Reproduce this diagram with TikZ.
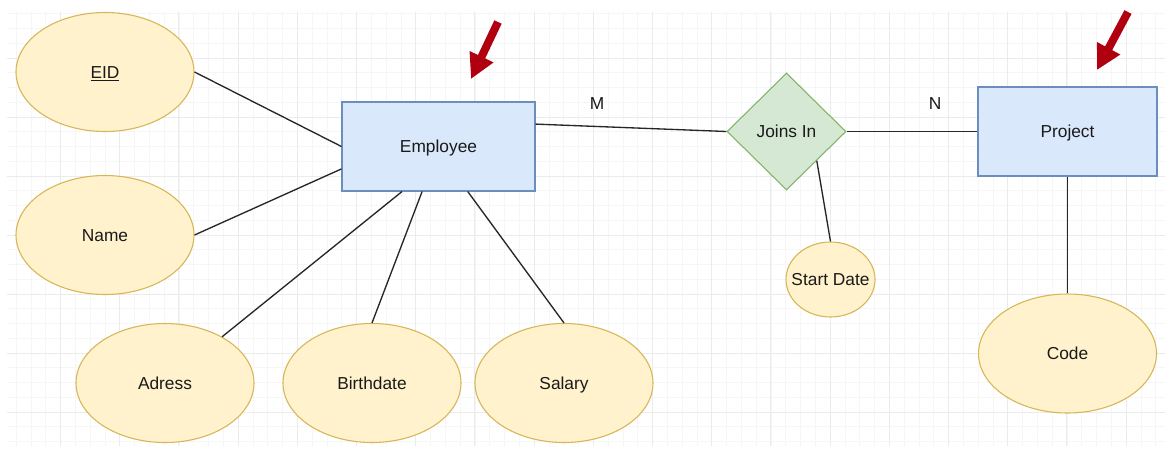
\documentclass[tikz,border=0pt]{standalone}
\usepackage{fontspec}
\setmainfont{Liberation Sans}
\usetikzlibrary{shapes.geometric,arrows.meta}
\definecolor{attrfill}{HTML}{FFF2CC}
\definecolor{attrline}{HTML}{D6B656}
\definecolor{entfill}{HTML}{DAE8FC}
\definecolor{entline}{HTML}{6C8EBF}
\definecolor{relfill}{HTML}{D5E8D4}
\definecolor{relline}{HTML}{82B366}
\definecolor{gridminor}{HTML}{F6F6F6}
\definecolor{gridmajor}{HTML}{EBEBEB}
\definecolor{pointer}{HTML}{B00010}
\definecolor{textdark}{HTML}{1A1A1A}
\begin{document}
\begin{tikzpicture}[x=0.75pt,y=-0.75pt,
    every node/.style={font=\fontsize{13}{15}\selectfont,text=textdark,text height=9.2pt,text depth=0pt},
    attr/.style={ellipse,draw=attrline,fill=attrfill,line width=0.8pt,minimum width=133.5pt,minimum height=89.25pt,inner sep=0pt},
    entity/.style={rectangle,draw=entline,fill=entfill,line width=0.8pt,minimum width=144.75pt,minimum height=66.75pt},
    rel/.style={diamond,draw=relline,fill=relfill,line width=0.8pt,minimum width=89.25pt,minimum height=87.75pt,inner sep=0pt},
    link/.style={draw=black!85,line width=1pt},
    minorgrid/.style={draw=gridminor,line width=0.6pt},
    majorgrid/.style={draw=gridmajor,line width=0.7pt},
    redarrow/.style={draw=pointer,line width=6pt,-{Triangle[length=18.5pt,width=18.5pt]}}]
    \useasboundingbox (0,0) rectangle (1170,451);
    \fill[white] (0,0) rectangle (1170,451);
    \foreach \i in {1,...,78} \draw[minorgrid] ({1.3+14.8*\i},12) -- ({1.3+14.8*\i},446);
    \foreach \j in {1,...,30} \draw[minorgrid] (7,{-1+14.75*\j}) -- (1165,{-1+14.75*\j});
    \foreach \i in {1,...,19} \draw[majorgrid] ({1.3+59.2*\i},12) -- ({1.3+59.2*\i},446);
    \foreach \j in {1,...,7} \draw[majorgrid] (7,{-1+59*\j}) -- (1165,{-1+59*\j});
    \node[attr] (eid) at (105,72) {\underline{EID}};
    \node[attr] (name) at (105,235) {Name};
    \node[attr] (adress) at (165,383) {Adress};
    \node[attr] (birthdate) at (372,383) {Birthdate};
    \node[attr] (salary) at (564,383) {Salary};
    \node[entity] (employee) at (438.5,146.5) {Employee};
    \node[rel] (joins) at (786.5,131.5) {Joins In};
    \node[attr,minimum width=66.75pt,minimum height=56.25pt,label=center:Start Date] (startdate) at (830.5,279.5) {};
    \node[entity,minimum width=134.25pt] (project) at (1067.5,131.5) {Project};
    \node[attr] (code) at (1067.5,353.5) {Code};
    \node (m) at (597,103) {M};
    \node (n) at (935,103) {N};
    \draw[link] (eid.east) -- (employee.west);
    \draw[link] (name.east) -- (employee.193);
    \draw[link] (adress.39) -- (employee.231);
    \draw[link] (birthdate.north) -- (employee.250);
    \draw[link] (salary.north) -- (employee.303);
    \draw[link] (employee.13) -- (joins.west);
    \draw[link] (joins.east) -- (project.west);
    \draw[link] (joins.316) -- (startdate.north);
    \draw[link] (project.south) -- (code.north);
    \coordinate (emptail) at (498,22);
    \coordinate (emptip) at (471,79);
    \coordinate (projtail) at (1128,12);
    \coordinate (projtip) at (1097,70);
    \draw[redarrow] (emptail) -- (emptip);
    \draw[redarrow] (projtail) -- (projtip);
\end{tikzpicture}
\end{document}
